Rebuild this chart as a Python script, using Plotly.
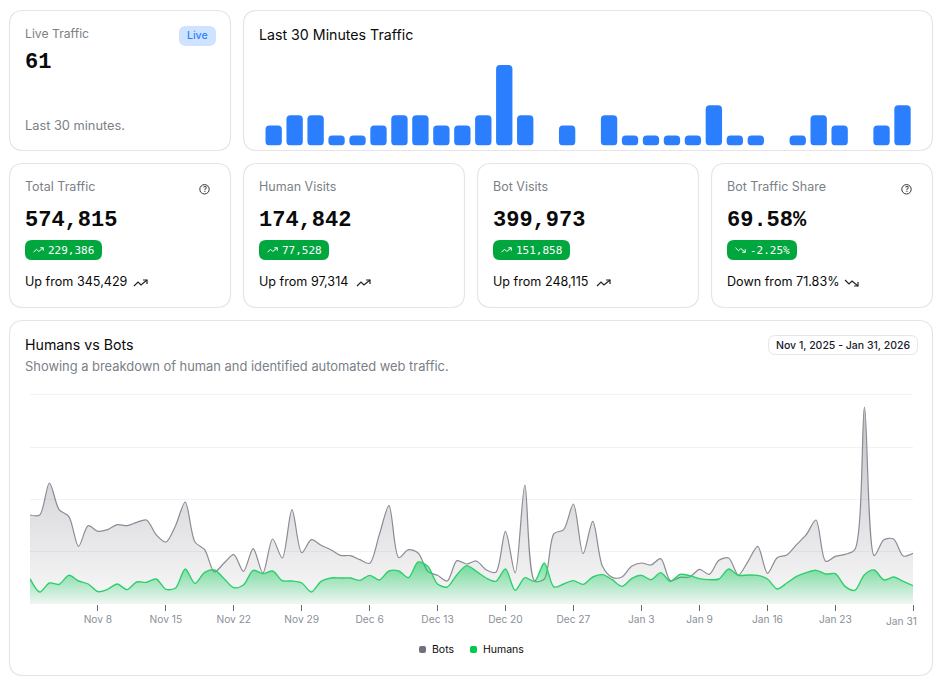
import plotly.graph_objects as go
import pandas as pd

W, H = 944, 687

# ---- data ----
minutes = list(range(1, 32))
minute_counts = [2,3,3,1,1,2,3,3,2,2,3,8,3,0,2,0,3,1,1,1,1,4,1,1,0,1,3,2,0,2,4]
bots = [6675,6675,9075,7075,6575,4325,5875,5450,5575,5950,5875,6125,6300,5200,4650,5875,7650,4650,4075,2400,
        3075,3700,2450,4150,2325,4875,3450,7075,3850,4825,4400,4075,3650,3625,3325,3050,5200,7375,3475,4075,
        3825,2450,2150,1725,3250,3000,3225,2575,2375,5450,2325,8925,1725,1875,5275,5575,7500,3775,6200,2825,
        2000,2025,2825,3075,2925,3400,1750,2000,2025,2600,2225,3275,3450,2175,3200,4325,2300,3475,3675,4450,
        5200,6300,3200,3575,3725,4075,14775,3625,4825,4875,3600,3800]
humans = [1900,900,1575,1475,2150,1725,1500,925,1100,1500,1075,1650,1625,1875,1100,1200,2625,1550,2375,2550,
          1900,1225,1425,2525,2275,2475,1750,1725,1575,900,1700,1950,1950,1950,1775,2150,1800,2475,2475,1975,
          3150,2825,1500,1275,2200,2875,2450,1950,1700,2625,1025,1975,1700,3075,1275,1500,1750,1475,2025,2200,
          1825,1325,1900,2150,1825,2350,1700,2225,2125,1900,1825,1875,2625,2150,2175,2150,1875,1125,1575,2075,
          2350,2525,2250,2275,1325,1025,2200,2550,1800,2025,1700,1375]
dates = pd.date_range("2025-11-01", periods=len(bots), freq="D")
tick_dates = ["2025-11-08","2025-11-15","2025-11-22","2025-11-29","2025-12-06","2025-12-13","2025-12-20",
              "2025-12-27","2026-01-03","2026-01-09","2026-01-16","2026-01-23"]
tick_labels = ["Nov 8","Nov 15","Nov 22","Nov 29","Dec 6","Dec 13","Dec 20","Dec 27","Jan 3","Jan 9","Jan 16","Jan 23"]
kpis = [
    ("Total Traffic", "574,815", "229,386", "Up from 345,429", True),
    ("Human Visits", "174,842", "77,528", "Up from 97,314", False),
    ("Bot Visits", "399,973", "151,858", "Up from 248,115", False),
    ("Bot Traffic Share", "69.58%", "-2.25%", "Down from 71.83%", True),
]

# ---- style ----
SANS = "Inter, 'Noto Sans', sans-serif"
MONO = "'Liberation Mono', 'DejaVu Sans Mono', monospace"
MONO2 = "'DejaVu Sans Mono', 'Liberation Mono', monospace"
INK, MUTED, BORDER = "#0a0a0a", "#7b7f87", "#e5e5e5"
BLUE, GREEN, GREY = "#2b7fff", "#00c950", "#71717b"

def X(px): return px / W
def Y(py): return 1 - py / H

def rrect(x0, y0, x1, y1, r):
    pts = [("M", x0 + r, y0), ("L", x1 - r, y0), ("Q", x1, y0, x1, y0 + r), ("L", x1, y1 - r),
           ("Q", x1, y1, x1 - r, y1), ("L", x0 + r, y1), ("Q", x0, y1, x0, y1 - r), ("L", x0, y0 + r),
           ("Q", x0, y0, x0 + r, y0)]
    out = []
    for p in pts:
        nums = p[1:]
        coords = " ".join(f"{X(nums[i]):.5f},{Y(nums[i+1]):.5f}" for i in range(0, len(nums), 2))
        out.append(f"{p[0]} {coords}")
    return " ".join(out) + " Z"

shapes, annos = [], []

def box(x0, y0, x1, y1, r, fill="white", line=BORDER, lw=1.2):
    shapes.append(dict(type="path", xref="paper", yref="paper", path=rrect(x0, y0, x1, y1, r),
                       fillcolor=fill, line=dict(color=line, width=lw), layer="below"))

def text(px, py, s, size=12, color=INK, font=SANS, anchor="left", bold=False, weight=400):
    if bold:
        s = f"<b>{s}</b>"
    annos.append(dict(xref="paper", yref="paper", x=X(px), y=Y(py), text=s, showarrow=False,
                      xanchor=anchor, yanchor="middle", borderpad=0, borderwidth=0,
                      font=dict(family=font, size=size, color=color, weight=weight)))

def polyline(points, color, width=1.2):
    p = "M " + " L ".join(f"{X(a):.5f},{Y(b):.5f}" for a, b in points)
    shapes.append(dict(type="path", xref="paper", yref="paper", path=p, line=dict(color=color, width=width), layer="above"))

def trend(x, y, up, color, s=1.0, width=1.2):
    if up:
        polyline([(x, y+3*s), (x+4*s, y-1*s), (x+7*s, y+2*s), (x+13*s, y-3*s)], color, width)
        polyline([(x+9*s, y-3*s), (x+13*s, y-3*s), (x+13*s, y+1*s)], color, width)
    else:
        polyline([(x, y-3*s), (x+4*s, y+1*s), (x+7*s, y-2*s), (x+13*s, y+3*s)], color, width)
        polyline([(x+9*s, y+3*s), (x+13*s, y+3*s), (x+13*s, y-1*s)], color, width)

def help_icon(cx, cy):
    shapes.append(dict(type="circle", xref="paper", yref="paper", x0=X(cx-4.7), x1=X(cx+4.7), y0=Y(cy+4.7), y1=Y(cy-4.7),
                       line=dict(color="#333", width=1), layer="above"))
    text(cx, cy, "?", size=7.5, color="#333", anchor="center", weight=500)

# ---- cards ----
box(9.5, 10.5, 230.5, 150.5, 14)
box(243.5, 10.5, 932.5, 150.5, 14)
for x0 in (9.5, 243.5, 477.5, 711.5):
    box(x0, 163.5, x0 + 221, 307.5, 14)
box(9.5, 320.5, 932.5, 675.5, 14)

# top row
text(25, 33.5, "Live Traffic", 12.2, MUTED)
text(25, 62, "61", 22, INK, MONO, bold=True)
text(25, 126, "Last 30 minutes.", 12.8, MUTED)
box(179, 26, 216, 46, 7, fill="#cfe2ff", line="#cfe2ff", lw=0)
text(197, 35.5, "Live", 10.5, BLUE, anchor="center", weight=500)
text(259, 35, "Last 30 Minutes Traffic", 14.2, INK)

# KPI row
for (title, val, delta, sub, has_help), x0 in zip(kpis, (25, 259, 493, 727)):
    text(x0, 186.5, title, 12.5, MUTED)
    text(x0, 220, val, 22, INK, MONO, bold=True)
    up = not delta.startswith("-")
    box(x0, 240, x0 + 28 + 7 * len(delta), 260, 7, fill="#00a63e", line="#00a63e", lw=0)
    trend(x0 + 8.5, 250, up, "white", 0.75, 1)
    text(x0 + 22.5, 250.5, delta, 11, "white", MONO2)
    text(x0, 281.5, sub, 12.6, INK)
    if has_help:
        help_icon(x0 + 179.5, 189.3)
trend(134, 283, True, "#222")
trend(357, 283, True, "#222")
trend(597, 283, True, "#222")
trend(845, 283, False, "#222")

# big chart header
text(25, 344, "Humans vs Bots", 14.2, INK)
text(25, 367, "Showing a breakdown of human and identified automated web traffic.", 12.9, MUTED)
box(768.5, 335.5, 917.5, 354.5, 7, lw=1)
text(843, 345.5, "Nov 1, 2025 - Jan 31, 2026", 10.5, "#1a1a2e", anchor="center", weight=500)

# legend
box(419, 646, 426, 653, 2, fill=GREY, line=GREY, lw=0)
text(432, 649.5, "Bots", 10.5, INK)
box(470, 646, 477, 653, 2, fill=GREEN, line=GREEN, lw=0)
text(482.5, 649.5, "Humans", 10.5, INK)
text(917, 621, "Jan 31", 10.2, "#8a8f98", anchor="right")

fig = go.Figure()
# an explicit base makes the library round all four corners of each bar
fig.add_trace(go.Bar(x=minutes, y=minute_counts, base=[0] * len(minute_counts), marker=dict(color=BLUE, line=dict(width=0)),
                     xaxis="x2", yaxis="y2", name="Visits", showlegend=False))
fig.add_trace(go.Scatter(x=dates, y=bots, name="Bots", mode="lines", line=dict(color="#8b8b94", width=1.2, shape="spline", smoothing=0.85),
                         fill="tozeroy", fillgradient=dict(type="vertical",
                             colorscale=[[0, "rgba(113,113,123,0.05)"], [1, "rgba(113,113,123,0.42)"]]), showlegend=False))
fig.add_trace(go.Scatter(x=dates, y=humans, name="Humans", mode="lines", line=dict(color="#2dcf6c", width=1.4, shape="spline", smoothing=0.85),
                         fill="tozeroy", fillgradient=dict(type="vertical",
                             colorscale=[[0, "rgba(0,201,80,0.03)"], [1, "rgba(0,201,80,0.55)"]]), showlegend=False))

fig.update_layout(
    width=W, height=H, margin=dict(l=0, r=0, t=0, b=0), paper_bgcolor="white", plot_bgcolor="rgba(0,0,0,0)",
    barcornerradius=4, bargap=0.22, shapes=shapes, annotations=annos, showlegend=False, hovermode=False,
    xaxis=dict(domain=[X(30), X(913)], type="date", range=["2025-11-01", "2026-01-31"], tickmode="array",
               tickvals=tick_dates + ["2026-01-31"], ticktext=tick_labels + [""], ticks="outside", ticklen=6, tickcolor="#666",
               tickwidth=1, tickfont=dict(family=SANS, size=10.2, color="#8a8f98"), showgrid=False, zeroline=False, showline=False),
    yaxis=dict(domain=[Y(604), Y(392.5)], range=[0, 15863], tickmode="array", tickvals=[0, 3925, 7850, 11775, 15700],
               showticklabels=False, showgrid=True, gridcolor="#f2f2f3", gridwidth=1, zeroline=False, ticks=""),
    xaxis2=dict(domain=[X(263.2), X(913)], anchor="y2", range=[0.5, 31.5], visible=False),
    yaxis2=dict(domain=[Y(145.5), Y(65)], anchor="x2", range=[0, 8], visible=False),
)
fig.write_html("out.html", config=dict(displayModeBar=False),
               post_script="document.body.style.margin='0';document.body.style.overflow='hidden';")
